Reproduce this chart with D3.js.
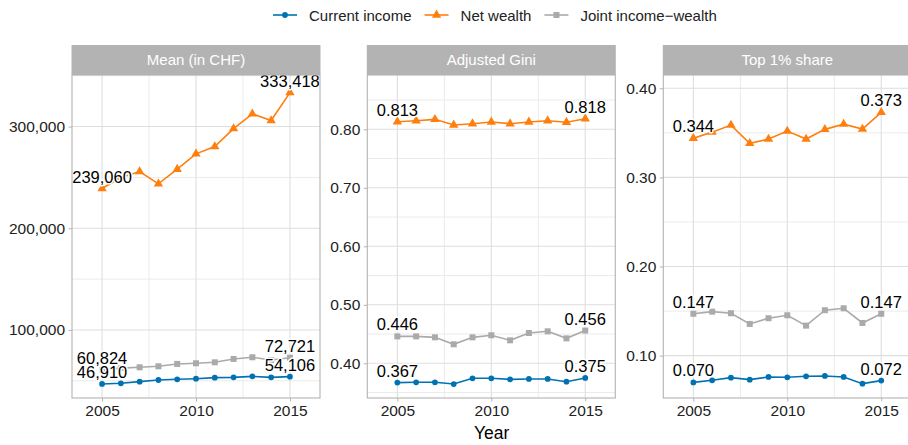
<!DOCTYPE html>
<html>
<head>
<meta charset="utf-8">
<script src="https://cdn.jsdelivr.net/npm/d3@7"></script>
<style>
  body { margin: 0; background: #fff; }
  svg { font-family: "Liberation Sans", Arial, sans-serif; }
  .lbl { paint-order: stroke; stroke: #fff; stroke-width: 3px; stroke-linejoin: round; }
</style>
</head>
<body>
<svg id="chart" width="908" height="445"></svg>
<script>
// data
var years = [2005, 2006, 2007, 2008, 2009, 2010, 2011, 2012, 2013, 2014, 2015];
var seriesNames = ["Current income", "Net wealth", "Joint income\u2212wealth"];
var panelTitles = ["Mean (in CHF)", "Adjusted Gini", "Top 1% share"];

var meanIncome = [46910, 47600, 49200, 50800, 51500, 52100, 53100, 53400, 54400, 53400, 54106];
var meanWealth = [239060, 249850, 255750, 243650, 258100, 273150, 280330, 298030, 312490, 305900, 333418];
var meanJoint  = [60824, 62500, 63300, 64300, 66600, 67250, 68200, 71500, 73150, 70500, 72721];

var giniIncome = [0.367, 0.3675, 0.3675, 0.3646, 0.3744, 0.3744, 0.3726, 0.3732, 0.3732, 0.3686, 0.375];
var giniWealth = [0.813, 0.8147, 0.817, 0.8073, 0.8096, 0.8125, 0.8096, 0.8125, 0.8147, 0.812, 0.818];
var giniJoint  = [0.446, 0.446, 0.4444, 0.4325, 0.4444, 0.4479, 0.4393, 0.4518, 0.4547, 0.4427, 0.456];

var topIncome = [0.070, 0.0724, 0.0753, 0.0731, 0.0761, 0.0757, 0.0769, 0.0772, 0.0761, 0.0686, 0.072];
var topWealth = [0.344, 0.3508, 0.3587, 0.3382, 0.343, 0.352, 0.343, 0.3539, 0.3598, 0.3542, 0.373];
var topJoint  = [0.147, 0.1494, 0.1476, 0.1356, 0.142, 0.1453, 0.1337, 0.151, 0.1532, 0.1367, 0.147];

var meanTicks = [100000, 200000, 300000];
var giniTicks = [0.4, 0.5, 0.6, 0.7, 0.8];
var topTicks  = [0.1, 0.2, 0.3, 0.4];
var yearTicks = [2005, 2010, 2015];

var colors = ["#0072B2", "#FF7F0E", "#AAAAAA"];
var shapes = [d3.symbolCircle, d3.symbolTriangle, d3.symbolSquare];
var shapeSize = [26, 38, 36];

var panels = [
    { title: panelTitles[0], series: [meanIncome, meanWealth, meanJoint], domain: [33100, 350700], ticks: meanTicks, fmt: d3.format(","), labFmt: d3.format(",") },
    { title: panelTitles[1], series: [giniIncome, giniWealth, giniJoint], domain: [0.3407, 0.8928], ticks: giniTicks, fmt: d3.format(".2f"), labFmt: d3.format(".3f") },
    { title: panelTitles[2], series: [topIncome, topWealth, topJoint], domain: [0.0525, 0.4149], ticks: topTicks, fmt: d3.format(".2f"), labFmt: d3.format(".3f") }
];

var svg = d3.select("#chart");
var panelLeft = [72, 367.3, 663.3],
    panelW = 248,
    plotTop = 75,
    plotBottom = 398,
    stripTop = 45;

function minorOf(ticks) {
    var step = ticks[1] - ticks[0], out = [];
    for (var i = -1; i < ticks.length; i++) out.push(ticks[0] + step * (i + 0.5));
    return out;
}

panels.forEach(function (p, pi) {
    var g = svg.append("g").attr("transform", "translate(" + panelLeft[pi] + ",0)");
    var x = d3.scaleLinear().domain([2003.4, 2016.6]).range([0, panelW]);
    var y = d3.scaleLinear().domain(p.domain).range([plotBottom, plotTop]);

    var grid = g.append("g");
    // minor grid
    grid.selectAll(".ymin").data(minorOf(p.ticks).filter(function (v) { return v > p.domain[0] && v < p.domain[1]; }))
        .enter().append("line")
        .attr("x1", 0).attr("x2", panelW)
        .attr("y1", function (d) { return y(d); }).attr("y2", function (d) { return y(d); })
        .attr("stroke", "#EBEBEB").attr("stroke-width", 1);
    grid.selectAll(".xmin").data([2007.5, 2012.5])
        .enter().append("line")
        .attr("x1", function (d) { return x(d); }).attr("x2", function (d) { return x(d); })
        .attr("y1", plotTop).attr("y2", plotBottom)
        .attr("stroke", "#EBEBEB").attr("stroke-width", 1);
    // major grid
    grid.selectAll(".ymaj").data(p.ticks)
        .enter().append("line")
        .attr("x1", 0).attr("x2", panelW)
        .attr("y1", function (d) { return y(d); }).attr("y2", function (d) { return y(d); })
        .attr("stroke", "#DEDEDE").attr("stroke-width", 1.1);
    grid.selectAll(".xmaj").data(yearTicks)
        .enter().append("line")
        .attr("x1", function (d) { return x(d); }).attr("x2", function (d) { return x(d); })
        .attr("y1", plotTop).attr("y2", plotBottom)
        .attr("stroke", "#DEDEDE").attr("stroke-width", 1.1);

    // lines and points
    var line = d3.line().x(function (d, i) { return x(years[i]); }).y(function (d) { return y(d); });
    [1, 2, 0].forEach(function (si) {
        var vals = p.series[si];
        g.append("path").datum(vals)
         .attr("d", line).attr("fill", "none")
         .attr("stroke", colors[si]).attr("stroke-width", 1.6);
        g.selectAll(".pt" + si).data(vals).enter().append("path")
         .attr("d", d3.symbol().type(shapes[si]).size(shapeSize[si]))
         .attr("transform", function (d, i) { return "translate(" + x(years[i]) + "," + y(d) + ")"; })
         .attr("fill", colors[si]);
    });

    // first and last value labels
    p.series.forEach(function (vals) {
        [0, vals.length - 1].forEach(function (i) {
            g.append("text").attr("class", "lbl")
             .attr("x", x(years[i])).attr("y", y(vals[i]) - 6)
             .attr("text-anchor", "middle")
             .attr("font-size", "16.5px").attr("fill", "#000")
             .text(p.labFmt(vals[i]));
        });
    });

    // panel border
    g.append("rect").attr("x", 0).attr("y", plotTop).attr("width", panelW).attr("height", plotBottom - plotTop)
     .attr("fill", "none").attr("stroke", "#B3B3B3").attr("stroke-width", 1.1);

    // strip
    g.append("rect").attr("x", -0.5).attr("y", stripTop).attr("width", panelW + 1).attr("height", plotTop - stripTop)
     .attr("fill", "#B3B3B3");
    g.append("text").attr("x", panelW / 2).attr("y", (stripTop + plotTop) / 2 + 5)
     .attr("text-anchor", "middle").attr("font-size", "15px").attr("fill", "#fff")
     .text(p.title);

    // axes
    var ya = g.append("g").call(d3.axisLeft(y).tickValues(p.ticks).tickFormat(p.fmt).tickSize(3.5).tickPadding(3.5));
    ya.select(".domain").remove();
    ya.selectAll("line").attr("stroke", "#B3B3B3");
    ya.selectAll("text").attr("font-size", "15.5px").attr("fill", "#222").attr("font-family", "Liberation Sans, Arial, sans-serif");

    var xa = g.append("g").attr("transform", "translate(0," + plotBottom + ")")
              .call(d3.axisBottom(x).tickValues(yearTicks).tickFormat(d3.format("d")).tickSize(3.5).tickPadding(3));
    xa.select(".domain").remove();
    xa.selectAll("line").attr("stroke", "#B3B3B3");
    xa.selectAll("text").attr("font-size", "15.5px").attr("fill", "#222").attr("font-family", "Liberation Sans, Arial, sans-serif");
});

svg.append("text")
   .attr("x", (panelLeft[0] + panelLeft[2] + panelW) / 2).attr("y", 439)
   .attr("text-anchor", "middle").attr("font-size", "17.5px").attr("fill", "#000")
   .text("Year");

// legend
var lx = 273;
seriesNames.forEach(function (name, si) {
    var lg = svg.append("g").attr("transform", "translate(" + lx + ",15)");
    lg.append("line").attr("x1", 0).attr("x2", 24).attr("y1", 0).attr("y2", 0)
      .attr("stroke", colors[si]).attr("stroke-width", 1.6);
    lg.append("path").attr("d", d3.symbol().type(shapes[si]).size(shapeSize[si]))
      .attr("transform", "translate(12,0)").attr("fill", colors[si]);
    var t = lg.append("text").attr("x", 36).attr("y", 5.5)
      .attr("font-size", "15px").attr("fill", "#222").text(name);
    lx += 36 + t.node().getComputedTextLength() + 13;
});
</script>
</body>
</html>
